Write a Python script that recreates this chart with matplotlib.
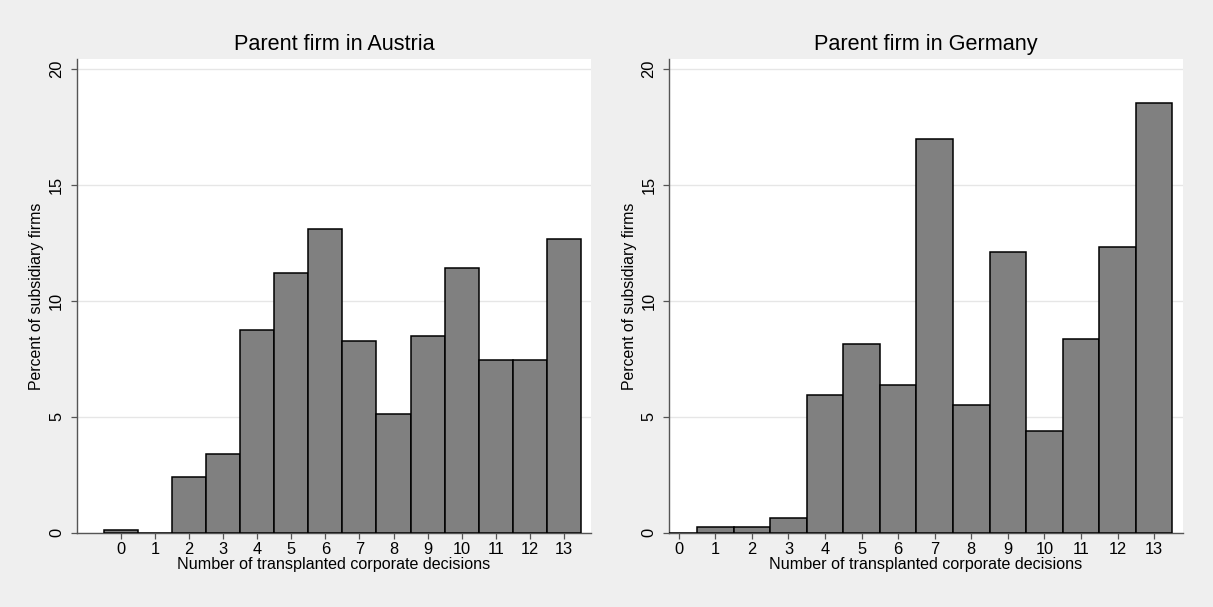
import matplotlib
matplotlib.use("Agg")
import matplotlib.pyplot as plt
import numpy as np

plt.rcParams['font.family'] = ['Liberation Sans', 'DejaVu Sans']

decisions = list(range(14))
austria_pct = [0.13, 0.0, 2.39, 3.41, 8.73, 11.2, 13.12, 8.28, 5.11, 8.5, 11.43, 7.46, 7.46, 12.67]
germany_pct = [0.0, 0.23, 0.23, 0.65, 5.94, 8.16, 6.39, 16.99, 5.51, 12.12, 4.41, 8.38, 12.35, 18.53]
titles = ["Parent firm in Austria", "Parent firm in Germany"]
xlabel = "Number of transplanted corporate decisions"
ylabel = "Percent of subsidiary firms"
yticks = [0, 5, 10, 15, 20]

W, H = 1213, 607
bg = '#efefef'
fig = plt.figure(figsize=(W/100, H/100), dpi=100, facecolor=bg)

def rect(x0, x1, y0, y1):
    return [x0/W, 1-y1/H, (x1-x0)/W, (y1-y0)/H]

axes_rects = [rect(76.7, 591, 59.3, 532.7), rect(669, 1182.7, 59.3, 532.7)]
xlims = [(-1.29, 13.79), (-0.265, 13.78)]

for r, vals, title, xl in zip(axes_rects, [austria_pct, germany_pct], titles, xlims):
    ax = fig.add_axes(r)
    ax.set_facecolor('white')
    ax.bar(decisions, vals, width=1.0, color='#808080', edgecolor='black', linewidth=1.1, zorder=3)
    ax.set_xlim(*xl)
    ax.set_ylim(0, 20.43)
    ax.set_yticks(yticks)
    ax.set_xticks(decisions)
    ax.grid(axis='y', color='#e6e6e6', linewidth=1.0, zorder=0)
    for s in ['top', 'right']:
        ax.spines[s].set_visible(False)
    for s in ['left', 'bottom']:
        ax.spines[s].set_color('#555555')
        ax.spines[s].set_linewidth(1.0)
    ax.tick_params(axis='both', direction='out', length=4.5, width=0.9, color='#555555', labelsize=11.8)
    ax.tick_params(axis='x', pad=2.3)
    ax.tick_params(axis='y', pad=4.5)
    for lab in ax.get_yticklabels():
        lab.set_rotation(90)
        lab.set_va('center')
    ax.set_title(title, fontsize=15.6, pad=6.7)
    ax.set_xlabel(xlabel, fontsize=11.6, labelpad=0)
    ax.set_ylabel(ylabel, fontsize=11.4, labelpad=3.5)

fig.savefig('out.png', dpi=100, facecolor=bg)
